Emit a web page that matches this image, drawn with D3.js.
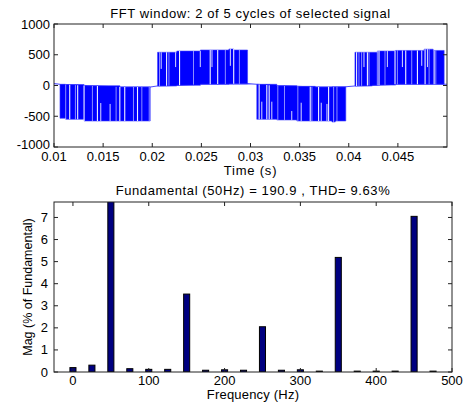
<!DOCTYPE html>
<html><head><meta charset="utf-8">
<script src="https://cdn.jsdelivr.net/npm/d3@7"></script>
<style>
body{margin:0;background:#fff}
text{font-family:"Liberation Sans",Arial,Helvetica,sans-serif;fill:#000}
</style></head><body>
<svg id="c" width="463" height="402"></svg>
<script>
// ---------- top chart data ----------
const timeTicks=[0.01,0.015,0.02,0.025,0.03,0.035,0.04,0.045];
const voltTicks=[-1000,-500,0,500,1000];
const halfStart=[0.01061,0.02054,0.03064,0.04063];
const halfEnd=[0.01979,0.0297,0.0397,0.04971];
const halfLevels=[
  [[0.01061,-533],[0.01119,-550],[0.01306,-577]],
  [[0.02054,540],[0.0225,560],[0.0249,577],[0.0278,593],[0.0283,577]],
  [[0.03064,-550],[0.03268,-560],[0.03472,-577],[0.03829,-593],[0.03863,-577]],
  [[0.04063,540],[0.04291,560],[0.04478,570],[0.04767,590],[0.04859,570]]
];
const baseT=[0.01,0.0106,0.0133,0.0167,0.0198,0.0205,0.0225,0.0249,0.0297,0.0306,0.0327,0.0366,0.0397,0.0406,0.0424,0.0448,0.05];
const baseV=[30,20,-3,-24,-24,-8,3,20,30,20,-3,-24,-20,-8,3,20,20];
// gaps: [time, kind, depth]  f=white, l=light, p=partial notch
const halfGaps=[
  [[0.01119,'l'],[0.0116,'f'],[0.01218,'l'],[0.01241,'f'],[0.01306,'f'],[0.01391,'l'],[0.01442,'f'],[0.01476,'p',-285],[0.01571,'p',-300],[0.01632,'l'],[0.0167,'f'],[0.0172,'f'],[0.01809,'l'],[0.0185,'f'],[0.01894,'l'],[0.01969,'l']],
  [[0.02074,'l'],[0.02091,'p',270],[0.02146,'f'],[0.0217,'l'],[0.02238,'p',300],[0.02278,'f'],[0.0242,'l'],[0.02489,'p',300],[0.0259,'f'],[0.02608,'p',300],[0.02666,'f'],[0.02744,'l'],[0.02795,'p',320],[0.02829,'f'],[0.02887,'l']],
  [[0.03088,'f'],[0.03115,'p',-263],[0.03166,'f'],[0.0319,'f'],[0.03217,'p',-263],[0.03278,'l'],[0.03346,'l'],[0.0342,'p',-415],[0.03482,'l'],[0.03516,'p',-280],[0.03608,'f'],[0.03625,'l'],[0.03693,'f'],[0.0372,'p',-280],[0.03778,'p',-300],[0.03795,'f'],[0.03846,'l'],[0.0388,'l']],
  [[0.0408,'f'],[0.04104,'l'],[0.04131,'l'],[0.04155,'p',300],[0.0419,'f'],[0.04206,'l'],[0.04291,'l'],[0.04308,'f'],[0.04369,'l'],[0.04393,'p',300],[0.04471,'f'],[0.04495,'l'],[0.04546,'p',300],[0.0458,'f'],[0.04641,'l'],[0.04699,'f'],[0.04743,'p',320],[0.04777,'f'],[0.04801,'p',300],[0.04818,'l'],[0.04869,'f'],[0.04886,'l']]
];
// ---------- bottom chart data ----------
const freqs=[0,25,50,75,100,125,150,175,200,225,250,275,300,325,350,375,400,425,450,475];
const mags=[0.2,0.31,100,0.15,0.12,0.12,3.53,0.08,0.1,0.08,2.05,0.08,0.1,0.04,5.19,0.04,0.04,0.04,7.05,0.04];
const freqTicks=[0,100,200,300,400,500];
const magTicks=[0,1,2,3,4,5,6,7];

const svg=d3.select('#c');
const FS=13;

// ---------- top chart ----------
const T={l:54,r:447,t:24,b:147};
const x1=d3.scaleLinear().domain([0.01,0.05]).range([T.l,T.r]);
const y1=d3.scaleLinear().domain([-1000,1000]).range([T.b,T.t]);
const baseAt=d3.scaleLinear().domain(baseT).range(baseV);
function levelAt(h,t){let v=halfLevels[h][0][1];for(const s of halfLevels[h]){if(t>=s[0])v=s[1];}return v;}

svg.append('rect').attr('x',T.l).attr('y',T.t).attr('width',T.r-T.l).attr('height',T.b-T.t).attr('fill','#fff');
const gTop=svg.append('g');
gTop.append('path').datum(baseT.map((t,i)=>[t,baseV[i]]))
  .attr('d',d3.line().x(d=>x1(d[0])).y(d=>y1(d[1])))
  .attr('fill','none').attr('stroke','#5050ff').attr('stroke-width',1.2);
halfStart.forEach((s,h)=>{
  const e=halfEnd[h];
  const pts=new Set([s,e]);
  halfLevels[h].forEach(p=>pts.add(p[0]));
  baseT.forEach(t=>{if(t>s&&t<e)pts.add(t);});
  const arr=[...pts].sort((a,b)=>a-b);
  gTop.append('path').datum(arr)
    .attr('d',d3.area().curve(d3.curveStepAfter).x(t=>x1(t)).y0(t=>y1(baseAt(t))).y1(t=>y1(levelAt(h,Math.min(t,e-1e-9)))))
    .attr('fill','#0000ff').attr('stroke','#3a3aff').attr('stroke-width',0.6);
  halfGaps[h].forEach(g=>{
    const t=g[0],lv=levelAt(h,t);
    const ya=y1(lv), yb=g[1]==='p'?y1(g[2]):y1(baseAt(t));
    gTop.append('line').attr('x1',x1(t)).attr('x2',x1(t)).attr('y1',ya).attr('y2',yb)
      .attr('stroke','#fff').attr('stroke-width',g[1]==='f'?1.1:1)
      .attr('stroke-opacity',g[1]==='l'?0.55:(g[1]==='p'?0.85:0.95));
  });
});
// box + ticks
svg.append('rect').attr('x',T.l).attr('y',T.t).attr('width',T.r-T.l).attr('height',T.b-T.t).attr('fill','none').attr('stroke','#222').attr('stroke-width',1);
timeTicks.forEach(t=>{
  svg.append('line').attr('x1',x1(t)).attr('x2',x1(t)).attr('y1',T.b).attr('y2',T.b-4).attr('stroke','#222');
  svg.append('line').attr('x1',x1(t)).attr('x2',x1(t)).attr('y1',T.t).attr('y2',T.t+4).attr('stroke','#222');
  svg.append('text').attr('x',x1(t)).attr('y',T.b+14).attr('text-anchor','middle').attr('font-size',FS).text(String(t));
});
voltTicks.forEach(v=>{
  svg.append('line').attr('x1',T.l).attr('x2',T.l+4).attr('y1',y1(v)).attr('y2',y1(v)).attr('stroke','#222');
  svg.append('line').attr('x1',T.r).attr('x2',T.r-4).attr('y1',y1(v)).attr('y2',y1(v)).attr('stroke','#222');
  svg.append('text').attr('x',T.l-4).attr('y',y1(v)+(v===-1000?2:4.5)).attr('text-anchor','end').attr('font-size',FS).text(String(v));
});
svg.append('text').attr('x',(T.l+T.r)/2).attr('y',18).attr('text-anchor','middle').attr('font-size',FS).attr('letter-spacing',0.6).text('FFT window: 2 of 5 cycles of selected signal');
svg.append('text').attr('x',(T.l+T.r)/2).attr('y',175).attr('text-anchor','middle').attr('font-size',FS).attr('letter-spacing',0.8).text('Time (s)');

// ---------- bottom chart ----------
const B={l:54,r:452,t:202,b:372};
const x2=d3.scaleLinear().domain([-25,500]).range([B.l,B.r]);
const y2=d3.scaleLinear().domain([0,7.7]).range([B.b,B.t]);
svg.append('clipPath').attr('id','clipB').append('rect').attr('x',B.l).attr('y',B.t).attr('width',B.r-B.l).attr('height',B.b-B.t);
svg.append('g').attr('clip-path','url(#clipB)').selectAll('rect').data(freqs).join('rect')
  .attr('x',(d)=>x2(d-4)).attr('width',(d)=>x2(d+4)-x2(d-4))
  .attr('y',(d,i)=>y2(mags[i])).attr('height',(d,i)=>y2(0)-y2(mags[i]))
  .attr('fill','#000080').attr('stroke','#000').attr('stroke-width',1);
svg.append('rect').attr('x',B.l).attr('y',B.t).attr('width',B.r-B.l).attr('height',B.b-B.t).attr('fill','none').attr('stroke','#222').attr('stroke-width',1);
freqTicks.forEach(f=>{
  svg.append('line').attr('x1',x2(f)).attr('x2',x2(f)).attr('y1',B.b).attr('y2',B.b-4).attr('stroke','#222');
  svg.append('line').attr('x1',x2(f)).attr('x2',x2(f)).attr('y1',B.t).attr('y2',B.t+4).attr('stroke','#222');
  svg.append('text').attr('x',x2(f)).attr('y',B.b+13).attr('text-anchor','middle').attr('font-size',FS).text(String(f));
});
magTicks.forEach(m=>{
  svg.append('line').attr('x1',B.l).attr('x2',B.l+4).attr('y1',y2(m)).attr('y2',y2(m)).attr('stroke','#222');
  svg.append('line').attr('x1',B.r).attr('x2',B.r-4).attr('y1',y2(m)).attr('y2',y2(m)).attr('stroke','#222');
  svg.append('text').attr('x',B.l-6).attr('y',y2(m)+4.5).attr('text-anchor','end').attr('font-size',FS).text(String(m));
});
svg.append('text').attr('x',(B.l+B.r)/2).attr('y',195).attr('text-anchor','middle').attr('font-size',FS).attr('letter-spacing',0.6).text('Fundamental (50Hz) = 190.9 , THD= 9.63%');
svg.append('text').attr('x',(B.l+B.r)/2).attr('y',399).attr('text-anchor','middle').attr('font-size',FS).attr('letter-spacing',0.2).text('Frequency (Hz)');
svg.append('text').attr('transform',`translate(32,${(B.t+B.b)/2}) rotate(-90)`).attr('text-anchor','middle').attr('font-size',12.5).text('Mag (% of Fundamental)');
</script>
</body></html>
